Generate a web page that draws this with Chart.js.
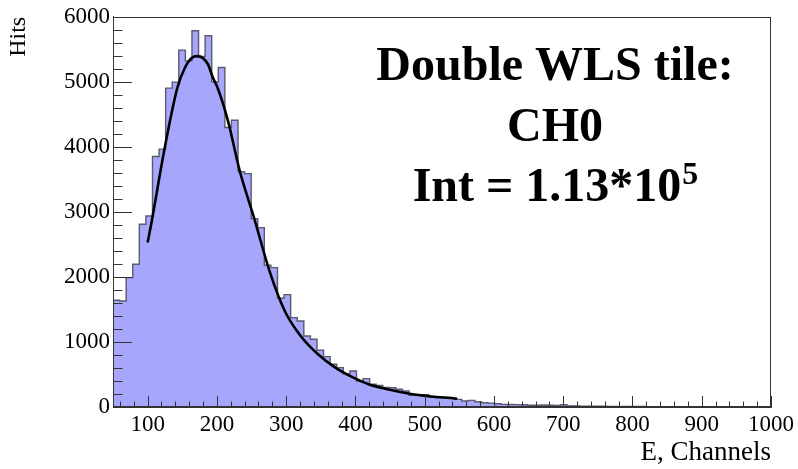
<!DOCTYPE html>
<html>
<head>
<meta charset="utf-8">
<script src="https://cdn.jsdelivr.net/npm/chart.js@4"></script>
<style>
  html, body { margin: 0; padding: 0; background: #fff; }
  canvas { display: block; }
</style>
</head>
<body>
<canvas id="c" width="798" height="469"></canvas>
<script>
// histogram: 100 bins, 50 .. 1000 channels
const binLow = 50;
const binWidth = 9.5;
const hits = [
  1642, 1631, 1989, 2195, 2811, 2938, 3851, 3965, 4903, 4995,
  5488, 5323, 5785, 5390, 5708, 5000, 5220, 4297, 4410, 3620,
  3589, 2897, 2758, 2180, 2143, 1672, 1728, 1374, 1323, 1092,
  1041, 872, 774, 657, 605, 512, 554, 395, 436, 349,
  333, 300, 297, 272, 246, 180, 185, 190, 150, 145,
  140, 130, 118, 92, 102, 80, 65, 60, 51, 41,
  38, 36, 34, 27, 26, 30, 28, 25, 36, 18,
  15, 14, 13, 12, 12, 10, 9, 9, 8, 7,
  7, 6, 6, 5, 5, 4, 4, 3, 3, 3,
  2, 2, 2, 1, 1, 1, 0, 1, 0, 0
];

// fit curve
const fitX = [100, 106, 123, 143, 154, 164, 172, 187, 194, 201, 216, 233, 255, 276, 298, 321, 346, 371, 395, 419, 443, 491, 547];
const fitY = [2530, 2860, 3890, 4910, 5220, 5370, 5395, 5270, 5070, 4910, 4400, 3630, 2860, 2090, 1477, 1092, 810, 605, 462, 349, 282, 185, 128];

const xRange = [50, 1000];
const yRange = [0, 6000];
const textLines = ['Double WLS tile:', 'CH0', 'Int = 1.13*10'];
const textSup = '5';

const histPoints = hits.map((v, i) => ({ x: binLow + i * binWidth, y: v }));
histPoints.push({ x: binLow + hits.length * binWidth, y: 0 });
const fitPoints = fitX.map((x, i) => ({ x: x, y: fitY[i] }));

const serif = '"Liberation Serif", "Times New Roman", serif';

// ROOT style: inner ticks on left/bottom + frame
const rootFrame = {
  id: 'rootFrame',
  afterDatasetsDraw(chart) {
    const { ctx, chartArea: a, scales: { x, y } } = chart;
    ctx.save();
    ctx.strokeStyle = '#333';
    ctx.lineWidth = 1;
    ctx.beginPath();
    for (let v = yRange[0]; v <= yRange[1]; v += 200) {
      const py = Math.round(y.getPixelForValue(v)) + 0.5;
      const len = v % 1000 === 0 ? 19 : 9.5;
      ctx.moveTo(a.left, py);
      ctx.lineTo(a.left + len, py);
    }
    for (let v = 60; v <= xRange[1]; v += 20) {
      const px = Math.round(x.getPixelForValue(v)) + 0.5;
      const len = v % 100 === 0 ? 11 : 5.5;
      ctx.moveTo(px, a.bottom);
      ctx.lineTo(px, a.bottom - len);
    }
    ctx.stroke();
    ctx.strokeRect(Math.round(a.left) + 0.5, Math.round(a.top) + 0.5,
      Math.round(a.width) - 1, Math.round(a.height) - 1);
    ctx.restore();
  },
  afterDraw(chart) {
    const ctx = chart.ctx;
    const cx = 555;
    ctx.save();
    ctx.fillStyle = '#000';
    ctx.textBaseline = 'alphabetic';
    ctx.font = 'bold 48px ' + serif;
    ctx.textAlign = 'center';
    ctx.fillText(textLines[0], cx, 80);
    ctx.fillText(textLines[1], cx, 141);
    const w1 = ctx.measureText(textLines[2]).width;
    ctx.font = 'bold 32px ' + serif;
    const w2 = ctx.measureText(textSup).width;
    const x0 = cx - (w1 + w2) / 2;
    ctx.textAlign = 'left';
    ctx.font = 'bold 48px ' + serif;
    ctx.fillText(textLines[2], x0, 201);
    ctx.font = 'bold 32px ' + serif;
    ctx.fillText(textSup, x0 + w1 + 1, 184);
    ctx.restore();
  }
};

new Chart(document.getElementById('c'), {
  type: 'line',
  data: {
    datasets: [{
      label: 'hist',
      data: histPoints,
      stepped: 'before',
      fill: 'origin',
      backgroundColor: 'rgb(166,166,252)',
      borderColor: 'rgb(90,90,110)',
      borderWidth: 1.4,
      pointRadius: 0,
      order: 2
    }, {
      label: 'fit',
      data: fitPoints,
      fill: false,
      borderColor: '#000',
      borderWidth: 2.6,
      cubicInterpolationMode: 'monotone',
      pointRadius: 0,
      order: 1
    }]
  },
  options: {
    responsive: false,
    animation: false,
    devicePixelRatio: 1,
    layout: { padding: { top: 14, right: 27, left: 0, bottom: 0 } },
    plugins: { legend: { display: false }, tooltip: { enabled: false } },
    scales: {
      x: {
        type: 'linear',
        min: xRange[0], max: xRange[1],
        grid: { display: false, drawTicks: false },
        border: { display: true, color: '#333' },
        ticks: {
          stepSize: 100, includeBounds: false, autoSkip: false, maxRotation: 0,
          color: '#000', font: { family: serif, size: 23 }, padding: 4,
          callback: (v) => String(v)
        },
        title: {
          display: true, text: 'E, Channels', align: 'end', color: '#000',
          font: { family: serif, size: 27 }, padding: { top: 0, bottom: 0 }
        },
        afterFit(scale) { scale.height = 62; }
      },
      y: {
        min: yRange[0], max: yRange[1],
        grid: { display: false, drawTicks: false },
        border: { display: true, color: '#333' },
        ticks: {
          stepSize: 1000, color: '#000', font: { family: serif, size: 23 }, padding: 3,
          callback: (v) => String(v)
        },
        title: {
          display: true, text: 'Hits', align: 'end', color: '#000',
          font: { family: serif, size: 24 }, padding: { top: 4, bottom: 0 }
        },
        afterFit(scale) { scale.width = 113; }
      }
    }
  },
  plugins: [rootFrame]
});
</script>
</body>
</html>
